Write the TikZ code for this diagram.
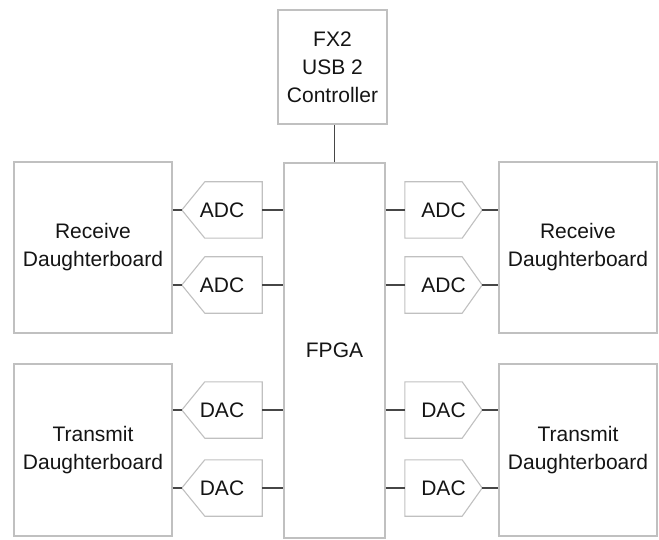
\documentclass[tikz,border=0pt]{standalone}
\usepackage{fontspec}
\setmainfont{Liberation Sans}
\definecolor{boxgray}{RGB}{192,192,192}
\definecolor{conngray}{RGB}{70,70,70}
\definecolor{txtgray}{RGB}{20,20,20}
\newcommand{\myfs}{\fontsize{21}{28}\selectfont}
\begin{document}
\begin{tikzpicture}[x=1pt,y=-1pt,
  box/.style={draw=boxgray, line width=1.1pt, align=center, font=\myfs, text=txtgray, inner sep=0pt},
  conv/.style={align=center, font=\myfs, text=txtgray, inner sep=0pt, minimum height=56pt},
  shp/.style={draw=boxgray, line width=1.1pt},
  conn/.style={draw=conngray, line width=1.3pt}]
\useasboundingbox (0,0) rectangle (659,540);
% main boxes
\node[box, minimum width=109pt, minimum height=114pt] (fx2) at (332.5,67) {FX2\\USB 2\\Controller};
\node[box, minimum width=101pt, minimum height=375pt] (fpga) at (334.5,350.5) {FPGA};
\node[box, minimum width=158pt, minimum height=171pt] (recL) at (93,247.5) {Receive\\Daughterboard};
\node[box, minimum width=158pt, minimum height=171pt] (recR) at (578,247.5) {Receive\\Daughterboard};
\node[box, minimum width=158pt, minimum height=172pt] (trL) at (93,450) {Transmit\\Daughterboard};
\node[box, minimum width=158pt, minimum height=172pt] (trR) at (578,450) {Transmit\\Daughterboard};
% converters (left: pointing west, right: pointing east)
\node[conv, minimum width=80pt] (adcL1) at (222,210) {ADC};
\node[conv, minimum width=80pt] (adcL2) at (222,285) {ADC};
\node[conv, minimum width=80pt] (dacL1) at (222,410) {DAC};
\node[conv, minimum width=80pt] (dacL2) at (222,488) {DAC};
\node[conv, minimum width=77pt] (adcR1) at (443.5,210) {ADC};
\node[conv, minimum width=77pt] (adcR2) at (443.5,285) {ADC};
\node[conv, minimum width=77pt] (dacR1) at (443.5,410) {DAC};
\node[conv, minimum width=77pt] (dacR2) at (443.5,488) {DAC};
\foreach \n in {adcL1,adcL2,dacL1,dacL2}{
  \draw[shp] ([xshift=23pt]\n.north west) -- (\n.north east) -- (\n.south east)
    -- ([xshift=23pt]\n.south west) -- (\n.west) -- cycle;
  \draw[conn] (\n.west -| recL.east) -- (\n.west);
  \draw[conn] (\n.east) -- (\n.east -| fpga.west);
}
\foreach \n in {adcR1,adcR2,dacR1,dacR2}{
  \draw[shp] (\n.north west) -- ([xshift=-20pt]\n.north east) -- (\n.east)
    -- ([xshift=-20pt]\n.south east) -- (\n.south west) -- cycle;
  \draw[conn] (\n.west -| fpga.east) -- (\n.west);
  \draw[conn] (\n.east) -- (\n.east -| recR.west);
}
\draw[conn] (fpga.north) -- (fpga.north |- fx2.south);
\end{tikzpicture}
\end{document}
